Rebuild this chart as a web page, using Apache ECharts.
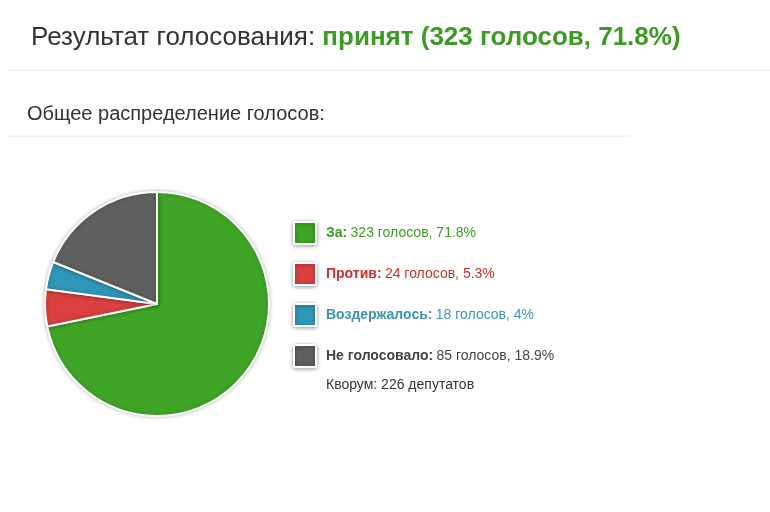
<!DOCTYPE html>
<html>
<head>
<meta charset="utf-8">
<script src="https://cdn.jsdelivr.net/npm/echarts@6/dist/echarts.min.js"></script>
<style>
  html, body { margin: 0; padding: 0; background: #fff; }
  #chart { width: 770px; height: 512px; }
</style>
</head>
<body>
<div id="chart"></div>
<script>
// данные голосования
const names = ['За', 'Против', 'Воздержалось', 'Не голосовало'];
const votes = [323, 24, 18, 85];
const percents = ['71.8%', '5.3%', '4%', '18.9%'];
const colors = ['#3fa526', '#d9403f', '#2f97b7', '#5f5f5f'];
const textColors = ['#3c9a25', '#c4332f', '#3b93b3', '#444444'];
const quorum = 226;

let chart = echarts.init(document.getElementById('chart'));

let rich = {};
names.forEach(function (n, i) {
  rich['b' + i] = { color: textColors[i], fontWeight: 'bold', fontSize: 14, fontFamily: 'Liberation Sans' };
  rich['t' + i] = { color: textColors[i], fontWeight: 'normal', fontSize: 14, fontFamily: 'Liberation Sans' };
});

let option = {
  animation: false,
  color: colors,
  title: {
    text: '{a|Результат голосования: }{b|принят (323 голосов, 71.8%)}',
    left: 26, top: 20,
    textStyle: {
      fontWeight: 'normal',
      rich: {
        a: { fontSize: 26, color: '#333', fontWeight: 'normal', fontFamily: 'Liberation Sans' },
        b: { fontSize: 26, color: '#3c9a25', fontWeight: 'bold', fontFamily: 'Liberation Sans' }
      }
    }
  },
  legend: {
    orient: 'vertical',
    left: 288, top: 216,
    itemWidth: 22, itemHeight: 22, itemGap: 17,
    icon: 'rect',
    selectedMode: false,
    itemStyle: { borderColor: '#fff', borderWidth: 2, shadowBlur: 4, shadowColor: 'rgba(0,0,0,0.35)', shadowOffsetY: 1 },
    formatter: function (name) {
      let i = names.indexOf(name);
      return '{b' + i + '|' + name + ':} {t' + i + '|' + votes[i] + ' голосов, ' + percents[i] + '}';
    },
    textStyle: { rich: rich, padding: [0, 0, 0, 5] },
    data: names
  },
  graphic: [
    { type: 'line', shape: { x1: 8, y1: 70, x2: 770, y2: 70 }, style: { stroke: '#e8e8e8', lineWidth: 1 } },
    { type: 'text', left: 27, top: 104, style: { text: 'Общее распределение голосов:', fontSize: 20, fill: '#333', fontFamily: 'Liberation Sans' } },
    { type: 'line', shape: { x1: 8, y1: 136, x2: 630, y2: 136 }, style: { stroke: '#ececec', lineWidth: 1 } },
    { type: 'text', left: 326, top: 378, style: { text: 'Кворум: ' + quorum + ' депутатов', fontSize: 14, fill: '#333', fontFamily: 'Liberation Sans' } }
  ],
  series: [
    {
      type: 'pie',
      center: [157, 304],
      radius: [0, 112],
      startAngle: 90,
      clockwise: true,
      label: { show: false },
      labelLine: { show: false },
      emphasis: { disabled: true },
      itemStyle: { borderColor: '#fff', borderWidth: 2, shadowBlur: 4, shadowColor: 'rgba(0,0,0,0.25)' },
      data: names.map(function (n, i) { return { name: n, value: votes[i] }; })
    }
  ]
};
chart.setOption(option);
</script>
</body>
</html>
